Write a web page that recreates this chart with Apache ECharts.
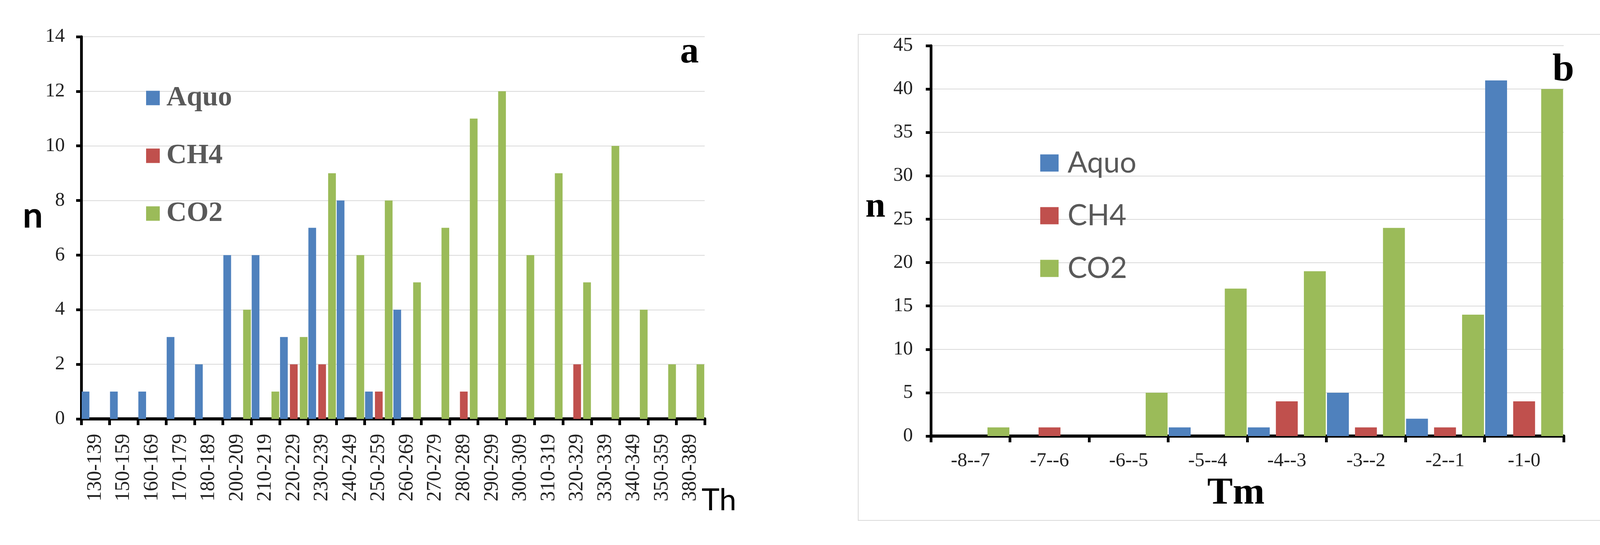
<!DOCTYPE html>
<html>
<head>
<meta charset="utf-8">
<script src="https://cdn.jsdelivr.net/npm/echarts@6/dist/echarts.min.js"></script>
<style>
html,body{margin:0;padding:0;background:#fff;}
#chart{width:4200px;height:1396px;}
</style>
</head>
<body>
<div id="chart"></div>
<script>
// Panel a: homogenization temperature (Th) histogram
const thCategories = ['130-139','150-159','160-169','170-179','180-189','200-209','210-219','220-229','230-239','240-249','250-259','260-269','270-279','280-289','290-299','300-309','310-319','320-329','330-339','340-349','350-359','380-389'];
const thAquo = [1,1,1,3,2,6,6,3,7,8,1,4,0,0,0,0,0,0,0,0,0,0];
const thCH4  = [0,0,0,0,0,0,0,2,2,0,1,0,0,1,0,0,0,2,0,0,0,0];
const thCO2  = [0,0,0,0,0,4,1,3,9,6,8,5,7,11,12,6,9,5,10,4,2,2];

// Panel b: melting temperature (Tm) histogram
const tmCategories = ['-8--7','-7--6','-6--5','-5--4','-4--3','-3--2','-2--1','-1-0'];
const tmAquo = [0,0,0,1,1,5,2,41];
const tmCH4  = [0,1,0,0,4,1,1,4];
const tmCO2  = [1,0,5,17,19,24,14,40];

const seriesNames = ['Aquo','CH4','CO2'];
const colors = ['#4f81bd','#c0504d','#9bbb59'];

const SERIF = '"Liberation Serif", "Times New Roman", serif';
const SANS = 'Lato, "Open Sans", sans-serif';

const chart = echarts.init(document.getElementById('chart'), null, {renderer:'canvas'});

function xAxisBase(grid, data, rotated, margin) {
  return {
    gridIndex: grid, type: 'category', data: data,
    axisLine: {show: true, lineStyle: {color: '#000', width: 8}},
    axisTick: {show: true, interval: 0, length: 16, lineStyle: {color: '#000', width: 7}},
    axisLabel: {interval: 0, rotate: rotated ? 90 : 0, margin: margin,
      fontFamily: SERIF, fontSize: rotated ? 52 : 50, color: '#222'},
    splitLine: {show: false}
  };
}
function yAxisBase(grid, max, interval, margin) {
  return {
    gridIndex: grid, type: 'value', min: 0, max: max, interval: interval,
    axisLine: {show: true, lineStyle: {color: '#000', width: 7}},
    axisTick: {show: true, length: 13, lineStyle: {color: '#000', width: 7}},
    axisLabel: {margin: margin, fontFamily: SERIF, fontSize: 50, color: '#222'},
    splitLine: {show: true, lineStyle: {color: '#d9d9d9', width: 2}}
  };
}

const seriesA = [thAquo, thCH4, thCO2].map((d, i) => ({
  name: seriesNames[i], type: 'bar', xAxisIndex: 0, yAxisIndex: 0, data: d,
  itemStyle: {color: colors[i]}, barGap: '28%', barCategoryGap: '3%'
}));
const seriesB = [tmAquo, tmCH4, tmCO2].map((d, i) => ({
  name: seriesNames[i], type: 'bar', xAxisIndex: 1, yAxisIndex: 1, data: d,
  itemStyle: {color: colors[i]}, barGap: '28%', barCategoryGap: '1.5%'
}));

const option = {
  animation: false,
  backgroundColor: '#fff',
  grid: [
    {left: 208, top: 94, width: 1596, height: 979},
    {left: 2383, top: 117, width: 1620, height: 1000}
  ],
  xAxis: [xAxisBase(0, thCategories, true, 38), xAxisBase(1, tmCategories, false, 39)],
  yAxis: [yAxisBase(0, 14, 2, 42), yAxisBase(1, 45, 5, 46)],
  legend: [
    {
      data: seriesNames, orient: 'vertical', left: 374, top: 213, padding: 0,
      itemWidth: 35, itemHeight: 37, itemGap: 72, icon: 'rect', selectedMode: false,
      textStyle: {fontFamily: SERIF, fontWeight: 'bold', fontSize: 72, color: '#595959',
        lineHeight: 76, padding: [0, 0, 0, 12]}
    },
    {
      data: seriesNames, orient: 'vertical', left: 2663, top: 378, padding: 0,
      itemWidth: 47, itemHeight: 44, itemGap: 56, icon: 'rect', selectedMode: false,
      textStyle: {fontFamily: SANS, fontSize: 75, color: '#595959',
        lineHeight: 79, padding: [0, 0, 0, 18]}
    }
  ],
  graphic: [
    {type: 'rect', z: -1, shape: {x: 2197, y: 88, width: 1953, height: 1245},
      style: {fill: 'none', stroke: '#d9d9d9', lineWidth: 2}},
    {type: 'text', x: 84, y: 553, style: {text: 'n', font: 'bold 92px ' + SANS, fill: '#000', textAlign: 'center', textVerticalAlign: 'middle'}},
    {type: 'text', x: 1765, y: 135, style: {text: 'a', font: 'bold 96px ' + SERIF, fill: '#000', textAlign: 'center', textVerticalAlign: 'middle'}},
    {type: 'text', x: 1796, y: 1282, style: {text: 'Th', font: '78px ' + SANS, fill: '#000', textAlign: 'left', textVerticalAlign: 'middle'}},
    {type: 'text', x: 2241, y: 531, style: {text: 'n', font: 'bold 92px ' + SERIF, fill: '#000', textAlign: 'center', textVerticalAlign: 'middle'}},
    {type: 'text', x: 4002, y: 180, style: {text: 'b', font: 'bold 100px ' + SERIF, fill: '#000', textAlign: 'center', textVerticalAlign: 'middle'}},
    {type: 'text', x: 3164, y: 1265, style: {text: 'Tm', font: 'bold 98px ' + SERIF, fill: '#000', textAlign: 'center', textVerticalAlign: 'middle'}}
  ],
  series: seriesA.concat(seriesB)
};
chart.setOption(option);
</script>
</body>
</html>
